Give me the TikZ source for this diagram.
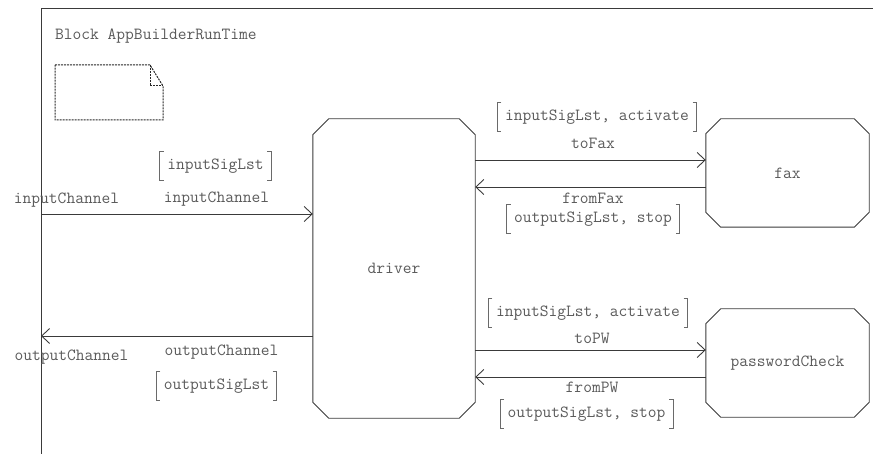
\documentclass[tikz,border=0pt]{standalone}
\usetikzlibrary{arrows.meta}
\definecolor{lnc}{HTML}{3A3A3A}
\definecolor{txc}{HTML}{5A5A5A}
\definecolor{brc}{HTML}{6A6A6A}
\tikzset{
  every node/.style={font=\ttfamily\fontsize{17}{19}\selectfont, text=txc, inner sep=0pt},
  ln/.style={draw=lnc, line width=0.9pt},
  arr/.style={ln, -{Straight Barb[length=8pt,width=15pt,line width=0.9pt]}},
  blk/.style={draw=none, minimum width=#1, minimum height=108pt},
  sig/.style={inner xsep=7.5pt, minimum height=29pt},
  brk/.style={draw=brc, line width=0.9pt},
  notebox/.style={draw=black!85, line width=1pt, dash pattern=on 2pt off 1pt}
}
\newcommand\octo[2]{\draw[ln] ([xshift=#2]#1.north west) -- ([xshift=-#2]#1.north east) -- ([yshift=-#2]#1.north east) -- ([yshift=#2]#1.south east) -- ([xshift=-#2]#1.south east) -- ([xshift=#2]#1.south west) -- ([yshift=#2]#1.south west) -- ([yshift=-#2]#1.north west) -- cycle;}
\newcommand\brk[1]{\draw[brk] ([xshift=4pt]#1.north west) -- (#1.north west) -- (#1.south west) -- ([xshift=4pt]#1.south west);
  \draw[brk] ([xshift=-4pt]#1.north east) -- (#1.north east) -- (#1.south east) -- ([xshift=-4pt]#1.south east);}
\begin{document}
\begin{tikzpicture}[x=1pt,y=-1pt]
\useasboundingbox (0,0) rectangle (873,454);
% frame
\coordinate (fbl) at (41,454);
\coordinate (ftl) at (41,8);
\coordinate (ftr) at (873,8);
\draw[ln] (fbl) -- (ftl) -- (ftr);
\node[anchor=west] (title) at (55,36) {Block AppBuilderRunTime};
% note icon
\coordinate (n1) at (55,65);
\coordinate (n2) at (150,65);
\coordinate (n3) at (163,86);
\coordinate (n4) at (163,120);
\coordinate (n5) at (55,120);
\coordinate (n6) at (150,86);
\draw[notebox] (n1) -- (n2) -- (n3) -- (n4) -- (n5) -- cycle;
\draw[notebox] (n2) -- (n6) -- (n3);
% blocks
\node[blk=162pt, minimum height=299pt] (driver) at (394,268.5) {driver};
\octo{driver}{16pt}
\node[blk=163pt] (fax) at (787.5,173) {fax};
\octo{fax}{15pt}
\node[blk=163pt] (pw) at (787.5,363) {passwordCheck};
\octo{pw}{15pt}
% channel ends on the frame
\coordinate (inEnd) at (41,214);
\coordinate (outEnd) at (41,336);
\draw[arr] (inEnd) -- (driver.west |- inEnd);
\draw[arr] (driver.west |- outEnd) -- (outEnd);
\node (inLbl) at (66.5,200) {inputChannel};
\node (inName) at (216.5,199) {inputChannel};
\node[sig] (inSig) at (215.5,166) {inputSigLst};
\brk{inSig}
\node (outLbl) at (71.5,357) {outputChannel};
\node (outName) at (221.5,352) {outputChannel};
\node[sig] (outSig) at (216.5,386) {outputSigLst};
\brk{outSig}
% fax channels
\coordinate (yToFax) at (0,160);
\coordinate (yFromFax) at (0,187);
\draw[arr] (driver.east |- yToFax) -- (fax.west |- yToFax);
\draw[arr] (fax.west |- yFromFax) -- (driver.east |- yFromFax);
\node[sig] (toFaxSig) at (597,117) {inputSigLst, activate};
\brk{toFaxSig}
\node (toFax) at (593,143) {toFax};
\node (fromFax) at (593,198) {fromFax};
\node[sig] (fromFaxSig) at (593,219) {outputSigLst, stop};
\brk{fromFaxSig}
% pw channels
\coordinate (yToPW) at (0,350);
\coordinate (yFromPW) at (0,377);
\draw[arr] (driver.east |- yToPW) -- (pw.west |- yToPW);
\draw[arr] (pw.west |- yFromPW) -- (driver.east |- yFromPW);
\node[sig] (toPWSig) at (588,313) {inputSigLst, activate};
\brk{toPWSig}
\node (toPW) at (592,338) {toPW};
\node (fromPW) at (592,387) {fromPW};
\node[sig] (fromPWSig) at (586.5,414) {outputSigLst, stop};
\brk{fromPWSig}
\end{tikzpicture}
\end{document}
